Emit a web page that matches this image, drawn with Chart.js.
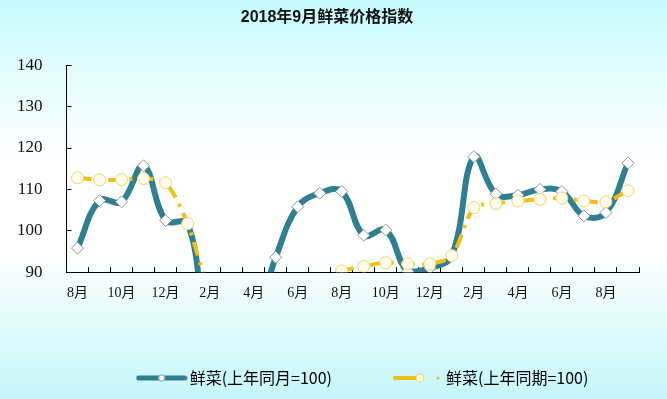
<!DOCTYPE html>
<html>
<head>
<meta charset="utf-8">
<script src="https://cdn.jsdelivr.net/npm/chart.js@4/dist/chart.umd.min.js"></script>
<style>
  html, body { margin: 0; padding: 0; }
  #wrap {
    width: 667px; height: 399px; position: relative;
    background: linear-gradient(to bottom, #c4fbfd 0%, #e6fdfe 20%, #ffffff 42%, #ffffff 62%, #e4fbfc 80%, #c4f6f9 100%);
  }
</style>
</head>
<body>
<div id="wrap"><canvas id="c" width="667" height="399"></canvas></div>
<script>
// ---- data ----
const months = ['8月','9月','10月','11月','12月','1月','2月','3月','4月','5月','6月','7月',
                '8月','9月','10月','11月','12月','1月','2月','3月','4月','5月','6月','7月','8月','9月'];
const sameMonth = [95.8, 107.3, 107.0, 115.7, 102.5, 101.7, 76.0, 77.5, 78.5, 93.6, 105.8, 109.1,
                   109.5, 98.9, 100.2, 90.2, 91.0, 94.0, 117.9, 108.9, 108.6, 110.0, 109.5, 103.6, 104.4, 116.4];
const samePeriod = [112.8, 112.3, 112.4, 112.6, 111.6, 101.7, 86.6, 84.0, 83.0, 84.0, 86.0, 88.0,
                    90.3, 91.4, 92.3, 92.0, 92.0, 94.0, 105.6, 106.6, 107.2, 107.6, 107.9, 107.2, 107.0, 109.7];
const yTicks = [90, 100, 110, 120, 130, 140];
const seriesNames = ['鲜菜(上年同月=100)', '鲜菜(上年同期=100)'];

const TEAL = '#2f7f93';
const YELLOW = '#f3bf14';

function symTeal() {
  const c = document.createElement('canvas'); c.width = 52; c.height = 12;
  const g = c.getContext('2d');
  g.strokeStyle = TEAL; g.lineWidth = 5; g.lineCap = 'round';
  g.beginPath(); g.moveTo(3, 6); g.lineTo(49, 6); g.stroke();
  g.fillStyle = '#fff'; g.strokeStyle = '#8a9aa2'; g.lineWidth = 1;
  g.beginPath(); g.arc(26, 6, 3.2, 0, Math.PI * 2); g.fill(); g.stroke();
  return c;
}
function symYellow() {
  const c = document.createElement('canvas'); c.width = 52; c.height = 12;
  const g = c.getContext('2d');
  g.strokeStyle = YELLOW; g.lineWidth = 4; g.lineCap = 'round';
  g.beginPath(); g.moveTo(3, 6); g.lineTo(30, 6); g.stroke();
  g.fillStyle = '#fffbe8'; g.strokeStyle = '#f3d165'; g.lineWidth = 1;
  g.beginPath(); g.arc(28, 6, 4, 0, Math.PI * 2); g.fill(); g.stroke();
  g.fillStyle = YELLOW;
  g.beginPath(); g.arc(46, 6, 1.5, 0, Math.PI * 2); g.fill();
  return c;
}
const legendSyms = [symTeal(), symYellow()];

const shiftLegend = {
  id: 'shiftLegend',
  afterLayout(chart) {
    const lg = chart.legend;
    if (lg) { lg.left += 38; lg.right += 38; }
  }
};

new Chart(document.getElementById('c'), {
  type: 'line',
  plugins: [shiftLegend],
  data: {
    labels: months,
    datasets: [
      {
        label: seriesNames[0],
        data: sameMonth,
        borderColor: TEAL,
        borderWidth: 6,
        tension: 0.4,
        pointStyle: 'rectRot',
        pointRadius: 6,
        pointBackgroundColor: '#ffffff',
        pointBorderColor: '#8899a3',
        pointBorderWidth: 1,
        order: 2
      },
      {
        label: seriesNames[1],
        data: samePeriod,
        borderColor: YELLOW,
        borderWidth: 4,
        borderDash: [14, 7, 3, 7],
        tension: 0.3,
        pointStyle: 'circle',
        pointRadius: 6,
        pointBackgroundColor: '#fffcee',
        pointBorderColor: '#f3d36a',
        pointBorderWidth: 1,
        order: 1
      }
    ]
  },
  options: {
    responsive: false,
    animation: false,
    layout: { padding: { left: 15, right: 28, top: 4, bottom: 3 } },
    plugins: {
      title: {
        display: true,
        text: '2018年9月鲜菜价格指数',
        color: '#111',
        font: { family: "'Liberation Sans','Noto Sans CJK SC',sans-serif", size: 16, weight: 'bold' },
        padding: { top: 4, bottom: 38 }
      },
      tooltip: { enabled: false },
      legend: {
        position: 'bottom',
        labels: {
          usePointStyle: true,
          pointStyleWidth: 40,
          padding: 66,
          color: '#111',
          font: { family: "'Noto Sans CJK SC',sans-serif", size: 16 },
          generateLabels: function (chart) {
            return [0, 1].map(i => ({
              text: seriesNames[i],
              datasetIndex: i,
              pointStyle: legendSyms[i],
              fillStyle: 'transparent',
              strokeStyle: 'transparent',
              lineWidth: 0,
              hidden: false
            }));
          }
        }
      }
    },
    scales: {
      x: {
        offset: true,
        grid: {
          display: true, drawOnChartArea: false, offset: true,
          color: '#000', tickLength: -5, tickWidth: 1
        },
        border: { color: '#000', width: 1 },
        afterFit: function (s) { s.height -= 16; },
        ticks: {
          autoSkip: false, maxRotation: 0, color: '#111', padding: 18,
          font: { family: "'Liberation Serif','Noto Sans CJK SC',serif", size: 14 },
          callback: function (v, i) { return i % 2 === 0 ? this.getLabelForValue(v) : ''; }
        }
      },
      y: {
        min: yTicks[0],
        max: yTicks[yTicks.length - 1],
        afterBuildTicks: function (s) { s.ticks = yTicks.map(v => ({ value: v })); },
        afterFit: function (s) { s.width -= 27; },
        grid: {
          display: true, drawOnChartArea: false,
          color: '#000', tickLength: -5, tickWidth: 1
        },
        border: { color: '#000', width: 1 },
        ticks: {
          color: '#111', padding: 29,
          font: { family: "'Liberation Serif',serif", size: 17 }
        }
      }
    }
  }
});
</script>
</body>
</html>
